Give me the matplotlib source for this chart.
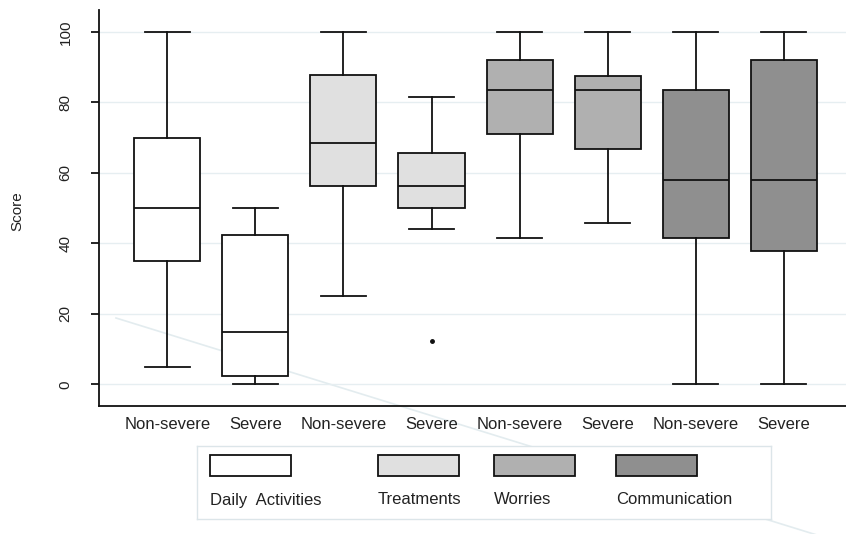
import matplotlib
matplotlib.use("Agg")
import matplotlib.pyplot as plt
from matplotlib.patches import Rectangle
from matplotlib.lines import Line2D

plt.rcParams['font.family'] = ['Liberation Sans', 'DejaVu Sans']

# data
groups = ['Non-severe', 'Severe'] * 4
domains = ['Daily  Activities', 'Treatments', 'Worries', 'Communication']
domain_colors = ['#ffffff', '#e0e0e0', '#b0b0b0', '#8f8f8f']

whis_lo = [5, 0, 25, 44, 41.5, 45.7, 0, 0]
q1 = [35, 2.4, 56.3, 50, 71, 66.7, 41.4, 37.7]
median = [50, 14.7, 68.5, 56.3, 83.4, 83.4, 58, 58]
q3 = [70, 42.3, 87.7, 65.7, 91.9, 87.6, 83.4, 91.9]
whis_hi = [100, 50, 100, 81.4, 100, 100, 100, 100]
outliers = [[], [], [], [12.4], [], [], [], []]

yticks = [0, 20, 40, 60, 80, 100]

fig = plt.figure(figsize=(8.46, 5.34), dpi=100)
fig.patch.set_facecolor('white')

# faint scan streak in the background
fig.add_artist(Line2D([116 / 846, 1.0], [1 - 318 / 534, 1 - 544 / 534],
                      color='#e3ecef', lw=1.2, zorder=0))

ax = fig.add_axes([99 / 846, 1 - 405.7 / 534, 747 / 846, 395.7 / 534])
ax.set_facecolor('none')

stats = []
for i in range(len(groups)):
    stats.append(dict(med=median[i], q1=q1[i], q3=q3[i],
                      whislo=whis_lo[i], whishi=whis_hi[i],
                      fliers=outliers[i], label=groups[i]))

positions = list(range(1, len(groups) + 1))
bp = ax.bxp(stats, positions=positions, widths=0.75, capwidths=0.51,
            patch_artist=True, showfliers=True,
            boxprops=dict(edgecolor='#111111', linewidth=1.3),
            medianprops=dict(color='#111111', linewidth=1.3),
            whiskerprops=dict(color='#111111', linewidth=1.3),
            capprops=dict(color='#111111', linewidth=1.3),
            flierprops=dict(marker='o', markersize=2.5, markerfacecolor='#111111',
                            markeredgecolor='#111111'))
for i, box in enumerate(bp['boxes']):
    box.set_facecolor(domain_colors[i // 2])

ax.set_xlim(0.224, 8.707)
ax.set_ylim(-6.07, 106.2)
ax.set_yticks(yticks)
ax.set_yticklabels([str(t) for t in yticks], rotation=90, va='center')
ax.yaxis.grid(True, color='#e6eef1', linewidth=1)
ax.set_axisbelow(True)

for s in ['top', 'right']:
    ax.spines[s].set_visible(False)
for s in ['left', 'bottom']:
    ax.spines[s].set_linewidth(1.3)
    ax.spines[s].set_color('#111111')

ax.tick_params(axis='x', length=0, pad=8, labelsize=12, labelcolor='#222222')
ax.tick_params(axis='y', length=6, width=1.2, pad=13, labelsize=11,
               labelcolor='#222222')

fig.text(0.021, 0.605, 'Score', rotation=90, ha='center', va='center',
         fontsize=11, color='#222222')

# legend panel: patches above their labels
lax = fig.add_axes([197 / 846, 1 - 519 / 534, 574 / 846, 73 / 534])
lax.set_xlim(0, 574)
lax.set_ylim(73, 0)
lax.set_facecolor('white')
lax.set_xticks([])
lax.set_yticks([])
for s in lax.spines.values():
    s.set_color('#dce5e9')
    s.set_linewidth(1)

legend_x = [13, 181, 297, 419]
for i, name in enumerate(domains):
    lax.add_patch(Rectangle((legend_x[i], 9), 81, 21, facecolor=domain_colors[i],
                            edgecolor='#111111', linewidth=1.3))
    lax.text(legend_x[i], 54, name, ha='left', va='center', fontsize=12,
             color='#222222')

fig.savefig('out.png', dpi=100)
